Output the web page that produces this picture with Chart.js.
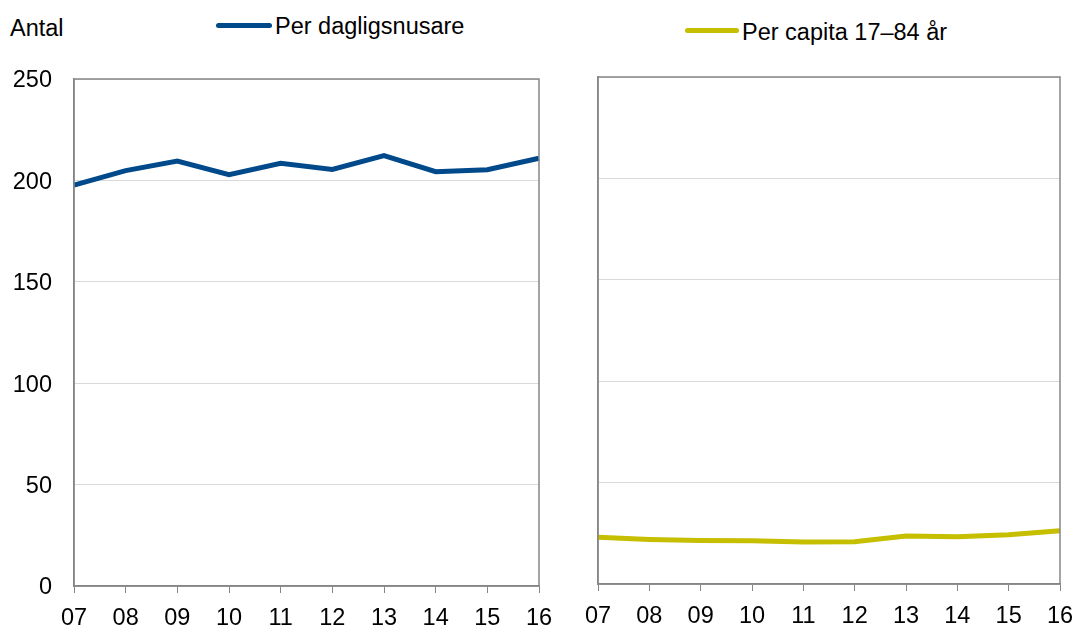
<!DOCTYPE html>
<html>
<head>
<meta charset="utf-8">
<script src="https://cdn.jsdelivr.net/npm/chart.js@4"></script>
<style>
  body { margin: 0; background: #fff; font-family: "Liberation Sans", Arial, sans-serif; }
  #wrap { position: relative; width: 1076px; height: 626px; }
  .lbl { position: absolute; font-size: 23.5px; color: #000; white-space: nowrap; line-height: 1; }
  .swatch { position: absolute; height: 5px; border-radius: 3px; }
  #left-box { position: absolute; left: 0; top: 0; width: 560px; height: 626px; }
  #right-box { position: absolute; left: 560px; top: 0; width: 516px; height: 626px; }
</style>
</head>
<body>
<div id="wrap">
  <div class="lbl" style="left:10px; top:17px;">Antal</div>
  <div class="swatch" style="left:216px; top:23px; width:56px; background:#00498b;"></div>
  <div class="lbl" style="left:275px; top:15px;">Per dagligsnusare</div>
  <div class="swatch" style="left:685px; top:28px; width:54px; background:#c5bf00;"></div>
  <div class="lbl" style="left:742px; top:21px;">Per capita 17–84 år</div>
  <div id="left-box"><canvas id="left-chart"></canvas></div>
  <div id="right-box"><canvas id="right-chart"></canvas></div>
</div>
<script>
const years = ["07", "08", "09", "10", "11", "12", "13", "14", "15", "16"];
const perDagligsnusare = [197.7, 204.8, 209.5, 202.8, 208.4, 205.4, 212.2, 204.3, 205.3, 210.9];
const perCapita = [23.0, 22.0, 21.5, 21.3, 20.7, 20.8, 23.7, 23.3, 24.3, 26.3];

const axisGray = "#868686";
const gridGray = "#d9d9d9";
const tickFont = { family: "'Liberation Sans', Arial, sans-serif", size: 23.5 };

// frame round the plot area (top and right edges)
const framePlugin = {
  id: "frame",
  afterDraw(chart) {
    const { ctx, chartArea } = chart;
    ctx.save();
    ctx.strokeStyle = axisGray;
    ctx.lineWidth = 1.5;
    ctx.strokeRect(chartArea.left, chartArea.top, chartArea.right - chartArea.left, chartArea.bottom - chartArea.top);
    ctx.restore();
  },
};

function makeChart(canvas, label, data, color, opts) {
  return new Chart(canvas.getContext("2d"), {
    type: "line",
    data: {
      labels: years,
      datasets: [
        {
          label: label,
          data: data,
          borderColor: color,
          backgroundColor: color,
          borderWidth: 5,
          pointRadius: 0,
          tension: 0,
          borderCapStyle: "butt",
        },
      ],
    },
    options: {
      responsive: true,
      maintainAspectRatio: false,
      animation: false,
      layout: { padding: { top: opts.top, right: opts.right, left: 0, bottom: 0 } },
      plugins: { legend: { display: false }, tooltip: { enabled: false } },
      scales: {
        x: {
          offset: false,
          grid: { drawOnChartArea: false, drawTicks: true, tickLength: 7, color: axisGray, lineWidth: 1 },
          border: { color: axisGray, width: 1.5 },
          ticks: { color: "#000", font: tickFont, padding: 11, maxRotation: 0, autoSkip: false },
          afterFit: (s) => {
            s.height = opts.xHeight;
            s.paddingLeft = 0;
            s.paddingRight = 0;
          },
        },
        y: {
          min: 0,
          max: 250,
          grid: { color: gridGray, lineWidth: 1, drawTicks: false },
          border: { color: axisGray, width: 1.5 },
          ticks: { display: opts.showY, stepSize: 50, color: "#000", font: tickFont, padding: 22, labelOffset: 2 },
          afterFit: (s) => { s.width = opts.yWidth; },
        },
      },
    },
    plugins: [framePlugin],
  });
}

makeChart(document.querySelector("#left-chart"), "Per dagligsnusare", perDagligsnusare, "#00498b",
  { top: 79, right: 21, xHeight: 40, yWidth: 74, showY: true });
makeChart(document.querySelector("#right-chart"), "Per capita 17–84 år", perCapita, "#c5bf00",
  { top: 77, right: 16, xHeight: 42, yWidth: 38, showY: false });
</script>
</body>
</html>
